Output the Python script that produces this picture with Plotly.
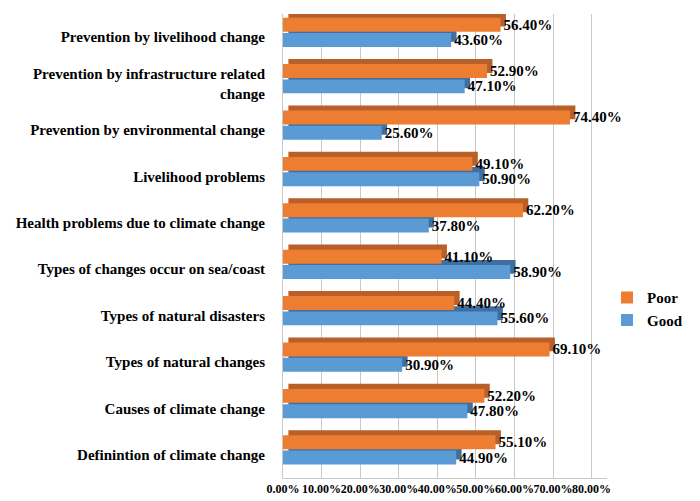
import plotly.graph_objects as go

categories = [
    "Definintion of climate change",
    "Causes of climate change",
    "Types of natural changes",
    "Types of natural disasters",
    "Types of changes occur on sea/coast",
    "Health problems due to climate change",
    "Livelihood problems",
    "Prevention by environmental change",
    "Prevention by infrastructure related<br>change",
    "Prevention by livelihood change",
]
poor = [55.10, 52.20, 69.10, 44.40, 41.10, 62.20, 49.10, 74.40, 52.90, 56.40]
good = [44.90, 47.80, 30.90, 55.60, 58.90, 37.80, 50.90, 25.60, 47.10, 43.60]
tick_vals = [0, 10, 20, 30, 40, 50, 60, 70, 80]
tick_text = ["0.00%", "10.00%", "20.00%", "30.00%", "40.00%", "50.00%", "60.00%", "70.00%", "80.00%"]

FONT = "Liberation Serif, Times New Roman, serif"
depth_x = 1.4
depth_y = 0.11
bw = 0.3

fig = go.Figure()

def add_series(vals, name, front, side, off):
    labels = [f"<b>{v:.2f}%</b>" for v in vals]
    fig.add_trace(go.Bar(
        y=categories, x=vals, base=depth_x, orientation="h",
        offset=off + depth_y, width=bw,
        marker=dict(color=side, line=dict(width=0)),
        showlegend=False, hoverinfo="skip",
    ))
    fig.add_trace(go.Bar(
        y=categories, x=vals, orientation="h", name=f"<b>{name}</b>",
        offset=off, width=bw,
        marker=dict(color=front, line=dict(width=0)),
        text=labels, textposition="outside", cliponaxis=False,
        constraintext="none",
        textfont=dict(family=FONT, size=15, color="black"),
    ))

add_series(good, "Good", "#5B9BD5", "#3E6F9E", -0.21)
add_series(poor, "Poor", "#ED7D31", "#B9602A", 0.12)

fig.update_layout(
    width=700, height=501,
    margin=dict(l=283, r=89, t=14, b=23),
    paper_bgcolor="white", plot_bgcolor="white",
    barmode="overlay",
    showlegend=True,
    legend=dict(x=1.0, xanchor="left", y=0.365, yanchor="middle",
                traceorder="reversed", itemwidth=30,
                font=dict(family=FONT, size=15, color="black")),
    xaxis=dict(range=[0, 84], tickvals=tick_vals, ticktext=tick_text,
               tickangle=0, automargin=False,
               tickfont=dict(family=FONT, size=12, color="black", weight="bold"),
               showgrid=True, gridcolor="#c8c8c8", gridwidth=1,
               showline=True, linecolor="#c8c8c8", zeroline=False),
    yaxis=dict(type="category", range=[-0.5, 9.5], automargin=False,
               tickfont=dict(family=FONT, size=15, color="black", weight="bold"),
               showline=True, linecolor="#c8c8c8", showgrid=False,
               ticks="", ticklabelstandoff=14),
)

fig.write_html("out.html")
